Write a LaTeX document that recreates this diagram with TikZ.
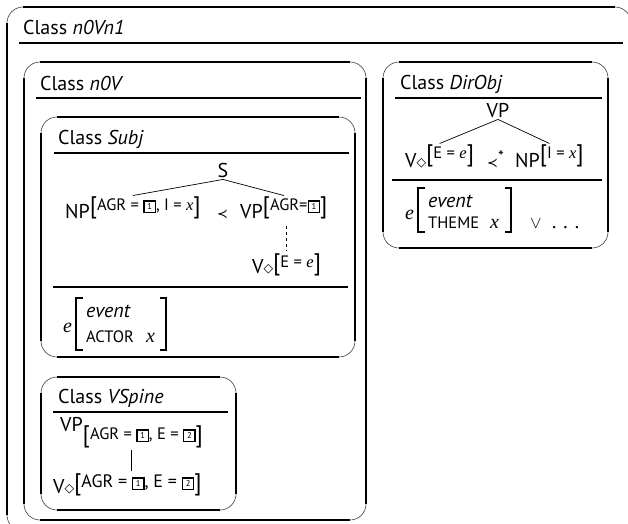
\documentclass[tikz,border=0pt]{standalone}
\usepackage{fontspec}
\setmainfont{PT Sans}
\newfontfamily\varserif{Liberation Serif}
\newfontfamily\symsans{DejaVu Sans}

% text sizes
\newcommand\tsz{\fontsize{20}{24}\selectfont}
\newcommand\ssz{\fontsize{16.5}{19}\selectfont}
\newcommand\lsz{\fontsize{18}{21}\selectfont}
% italic variable letters
\newcommand\vrb[1]{{\varserif\itshape #1}}
% symbols
\newcommand\dmd{\raisebox{0.3pt}{\symsans\fontsize{12.5}{12.5}\selectfont ◇}}
\newcommand\prc{{\symsans\fontsize{13}{13}\selectfont ≺}}
% feature brackets, larger than the feature text
\newcommand\lbk{\raisebox{-3.5pt}{\fontsize{24}{24}\selectfont[}}
\newcommand\rbk{\raisebox{-3.5pt}{\fontsize{24}{24}\selectfont]}}
% raised or lowered feature structure
\newcommand\ftsup[2]{\raisebox{#1}{\ssz\lbk#2\rbk}}
\newcommand\ftsupl[2]{\raisebox{#1}{\lsz\lbk#2\rbk}}
% boxed coindex
\newcommand\bxn[1]{\raisebox{-1.5pt}{\setlength\fboxsep{0pt}\setlength\fboxrule{1.3pt}%
  \fbox{\vbox to 10pt{\vss\hbox to 10pt{\hss\fontsize{8.5}{8.5}\selectfont#1\hss}\vss}}}}

\tikzset{
  frameedge/.style={line width=1.8pt, line cap=butt},
  framecorner/.style={line width=0.6pt, draw=black!75},
  divider/.style={line width=1.8pt},
  branch/.style={line width=0.7pt},
  brk/.style={line width=1.5pt, line cap=butt, line join=miter},
  lab/.style={inner sep=0pt, font=\tsz},
  ttl/.style={inner sep=0pt, anchor=base west, font=\tsz},
}

% class frame: thin rounded corners, heavy straight sides
\newcommand\clsframe[4]{%
  \draw[framecorner, rounded corners=16pt] (#1,#2) rectangle (#3,#4);
  \draw[frameedge] (#1+16,#2) -- (#3-16,#2);
  \draw[frameedge] (#1+16,#4) -- (#3-16,#4);
  \draw[frameedge] (#1,#2+16) -- (#1,#4-16);
  \draw[frameedge] (#3,#2+16) -- (#3,#4-16);
}

\begin{document}
\begin{tikzpicture}[x=1pt,y=-1pt]
\useasboundingbox (0,0) rectangle (628,523);
\clip (0,0) rectangle (628,523);

% ---- frames ----
\clsframe{7}{7}{631}{531}
\clsframe{24}{62}{366}{520}
\clsframe{41}{117}{355}{357}
\clsframe{41}{377}{236}{510}
\clsframe{383}{62}{608}{248}

% ---- titles and dividers ----
\node[ttl] (t0) at (23,34) {Class \textit{n0Vn1}};
\draw[divider] (19,43) -- (623,43);
\node[ttl] (t1) at (40,90) {Class \textit{n0V}};
\draw[divider] (36,98) -- (361,98);
\node[ttl] (t2) at (58,144) {Class \textit{Subj}};
\draw[divider] (54,153) -- (349,153);
\node[ttl] (t3) at (58,403) {Class \textit{VSpine}};
\draw[divider] (53,412) -- (228,412);
\node[ttl] (t4) at (400,89) {Class \textit{DirObj}};
\draw[divider] (395,98) -- (602,98);

% ---- Subj tree ----
\node[lab, anchor=base, inner sep=2pt] (s) at (223,177) {S};
\node[lab, anchor=base west] (np) at (65,218)
  {NP\ftsup{8pt}{AGR = \bxn{1}, I = \vrb{x}}};
\node[lab, anchor=base west] (prec) at (217,218) {\prc};
\node[lab, anchor=base west] (vp) at (240,218)
  {VP\ftsup{8pt}{AGR=\bxn{1}}};
\node[lab, anchor=base west] (vd) at (252,273)
  {V\dmd\ftsup{6pt}{E = \vrb{e}}};
\draw[branch] (s.south) -- ([yshift=1pt]np.north);
\draw[branch] (s.south) -- ([yshift=1pt]vp.north);
\draw[branch, dash pattern=on 3pt off 3pt] ([yshift=-7pt]vd.north |- vp.south) -- ([yshift=3pt]vd.north);
\draw[divider] (53,287) -- (348,287);

% Subj semantics
\node[lab, anchor=base west] (e1) at (63,332) {\vrb{e}};
\node[lab, anchor=base west] (ev1) at (86,317) {\textit{event}};
\node[lab, anchor=base west, font=\ssz] (ac1) at (86,342) {ACTOR};
\node[lab, anchor=base west] (x1) at (146,342) {\vrb{x}};
\draw[brk] (83,298) -- (76,298) -- (76,350) -- (83,350);
\draw[brk] (160,298) -- (166,298) -- (166,350) -- (160,350);

% ---- VSpine ----
\node[lab, anchor=base west] (vp2) at (60,431)
  {VP\ftsup{-8pt}{AGR = \bxn{1}, E = \bxn{2}}};
\node[lab, anchor=base west] (vd2) at (53,493)
  {V\dmd\ftsupl{6pt}{AGR = \bxn{1}, E = \bxn{2}}};
\draw[branch] ([yshift=-2pt]vp2.south) -- ([yshift=3pt]vp2.south |- vd2.north);

% ---- DirObj tree ----
\node[lab, anchor=base, inner sep=2pt] (vp3) at (498,117) {VP};
\node[lab, anchor=base west] (vd3) at (405,167)
  {V\dmd\ftsup{9pt}{E = \vrb{e}}};
\node[lab, anchor=base west] (prec3) at (487,167) {\prc\raisebox{5pt}{\ssz*}};
\node[lab, anchor=base west] (np3) at (515,167)
  {NP\ftsup{9pt}{I = \vrb{x}}};
\draw[branch] (vp3.south) -- ([yshift=1pt]vd3.north);
\draw[branch] (vp3.south) -- ([yshift=1pt]np3.north);
\draw[divider] (392,180) -- (602,180);

% DirObj semantics
\node[lab, anchor=base west] (e2) at (405,219) {\vrb{e}};
\node[lab, anchor=base west] (ev2) at (428,207) {\textit{event}};
\node[lab, anchor=base west, font=\ssz] (th2) at (428,228) {THEME};
\node[lab, anchor=base west] (x2) at (490,228) {\vrb{x}};
\draw[brk] (425,188) -- (418,188) -- (418,232) -- (425,232);
\draw[brk] (505,188) -- (511,188) -- (511,232) -- (505,232);
\node[lab, anchor=base west] (or2) at (530,228) {\fontsize{17}{17}\selectfont$\vee$};
\node[lab, anchor=base west] (dots2) at (552,228) {.\hspace{7pt}.\hspace{7pt}.};
\end{tikzpicture}
\end{document}
